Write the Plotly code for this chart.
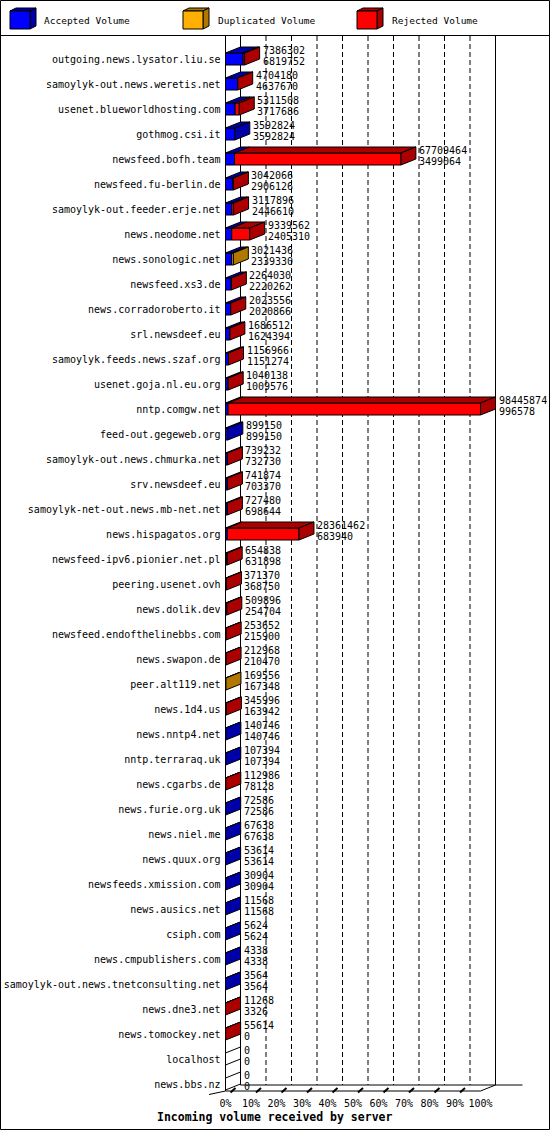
import plotly.graph_objects as go

# ---------------- data ----------------
hosts = [
    "outgoing.news.lysator.liu.se", "samoylyk-out.news.weretis.net", "usenet.blueworldhosting.com",
    "gothmog.csi.it", "newsfeed.bofh.team", "newsfeed.fu-berlin.de", "samoylyk-out.feeder.erje.net",
    "news.neodome.net", "news.sonologic.net", "newsfeed.xs3.de", "news.corradoroberto.it",
    "srl.newsdeef.eu", "samoylyk.feeds.news.szaf.org", "usenet.goja.nl.eu.org", "nntp.comgw.net",
    "feed-out.gegeweb.org", "samoylyk-out.news.chmurka.net", "srv.newsdeef.eu",
    "samoylyk-net-out.news.mb-net.net", "news.hispagatos.org", "newsfeed-ipv6.pionier.net.pl",
    "peering.usenet.ovh", "news.dolik.dev", "newsfeed.endofthelinebbs.com", "news.swapon.de",
    "peer.alt119.net", "news.1d4.us", "news.nntp4.net", "nntp.terraraq.uk", "news.cgarbs.de",
    "news.furie.org.uk", "news.niel.me", "news.quux.org", "newsfeeds.xmission.com", "news.ausics.net",
    "csiph.com", "news.cmpublishers.com", "samoylyk-out.news.tnetconsulting.net", "news.dne3.net",
    "news.tomockey.net", "localhost", "news.bbs.nz",
]
total_volume = [
    7386302, 4704180, 5311508, 3592824, 67709464, 3042066, 3117896, 9339562, 3021436, 2264030,
    2023556, 1686512, 1156966, 1040138, 98445874, 899150, 739232, 741874, 727480, 28361462,
    654838, 371370, 509896, 253652, 212968, 169556, 345996, 140746, 107394, 112986,
    72586, 67638, 53614, 30904, 11568, 5624, 4338, 3564, 11268, 55614, 0, 0,
]
accepted_volume = [
    6819752, 4637670, 3717686, 3592824, 3499064, 2906126, 2446610, 2405310, 2339330, 2220262,
    2020866, 1624394, 1151274, 1009576, 996578, 899150, 732730, 703370, 698644, 683940,
    631898, 368750, 254704, 215900, 210470, 167348, 163942, 140746, 107394, 78128,
    72586, 67638, 53614, 30904, 11568, 5624, 4338, 3564, 3326, 0, 0, 0,
]
duplicated_volume = [
    0, 0, 0, 0, 0, 0, 0, 0, 682106, 0,
    0, 0, 0, 0, 0, 0, 0, 0, 0, 0,
    0, 0, 0, 0, 0, 2208, 0, 0, 0, 0,
    0, 0, 0, 0, 0, 0, 0, 0, 0, 0, 0, 0,
]
rejected_volume = [t - a - d for t, a, d in zip(total_volume, accepted_volume, duplicated_volume)]

series_names = ["Accepted Volume", "Duplicated Volume", "Rejected Volume"]
front_colors = ["#0000FF", "#FFB000", "#FF0000"]
dark_colors = ["#0000A8", "#B07800", "#AC0000"]
tick_pcts = [0, 10, 20, 30, 40, 50, 60, 70, 80, 90, 100]
tick_texts = ["0%", "10%", "20%", "30%", "40%", "50%", "60%", "70%", "80%", "90%", "100%"]
x_title = "Incoming volume received by server"

# ---------------- geometry ----------------
FIG_W, FIG_H = 550, 1130
L, R, T, B = 200, 20, 36, 34
PW = FIG_W - L - R
PH = FIG_H - T - B
X0_PX = 225.5
PX_PER_PCT = 2.55
ROW0_PX = 59.0
ROW_PX = 25.0


def pct_of_px(px):
    return (px - X0_PX) / PX_PER_PCT


def row_of_py(py):
    return (py - ROW0_PX) / ROW_PX


def paper_x(px):
    return (px - L) / PW


def paper_y(py):
    return (FIG_H - B - py) / PH


XR = [pct_of_px(L), pct_of_px(FIG_W - R)]
YR = [row_of_py(FIG_H - B), row_of_py(T)]
DX = 15 / PX_PER_PCT
DY = 6 / ROW_PX
HALF = 6 / ROW_PX
MONO = "DejaVu Sans Mono"

vmax = max(total_volume)
rows = list(range(len(hosts)))
series = [accepted_volume, duplicated_volume, rejected_volume]


def pct(v):
    return v / vmax * 100.0


fig = go.Figure()

# front faces (bars)
cum = [0.0] * len(hosts)
segs = []
for s, vals in enumerate(series):
    xs, bases, seg = [], [], []
    for i, v in enumerate(vals):
        p = pct(v)
        xs.append(p if v > 0 else None)
        bases.append(cum[i])
        if v > 0:
            seg.append((i, cum[i], cum[i] + p))
        cum[i] += p
    segs.append(seg)
    fig.add_trace(go.Bar(
        y=rows, x=xs, base=bases, orientation="h", width=2 * HALF,
        marker=dict(color=front_colors[s], line=dict(color="black", width=1)),
        name=series_names[s], showlegend=False, hoverinfo="skip",
    ))

# top faces
for s in range(3):
    px_, py_ = [], []
    for (i, x0, x1) in segs[s]:
        rt = i - HALF
        px_ += [x0, x1, x1 + DX, x0 + DX, x0, None]
        py_ += [rt, rt, rt - DY, rt - DY, rt, None]
    if px_:
        fig.add_trace(go.Scatter(
            x=px_, y=py_, mode="lines", fill="toself", fillcolor=dark_colors[s],
            line=dict(color="black", width=1), showlegend=False, hoverinfo="skip",
        ))

# side faces (colour of last non-empty segment)
side_groups = {c: ([], []) for c in dark_colors + ["#FFFFFF"]}
for i in rows:
    col = "#FFFFFF"
    for s in range(3):
        if series[s][i] > 0:
            col = dark_colors[s]
    x1 = pct(total_volume[i])
    rt, rb = i - HALF, i + HALF
    gx, gy = side_groups[col]
    gx += [x1, x1, x1 + DX, x1 + DX, x1, None]
    gy += [rt, rb, rb - DY, rt - DY, rt, None]
for col, (gx, gy) in side_groups.items():
    if gx:
        fig.add_trace(go.Scatter(
            x=gx, y=gy, mode="lines", fill="toself", fillcolor=col,
            line=dict(color="black", width=1), showlegend=False, hoverinfo="skip",
        ))

# value labels
ann = []
for i in rows:
    xp = pct(total_volume[i])
    for txt, ysh in ((str(total_volume[i]), 8.5), (str(accepted_volume[i]), -2.5)):
        ann.append(dict(x=xp, y=i, xref="x", yref="y", text=txt, showarrow=False,
                        xanchor="left", yanchor="middle", xshift=16, yshift=ysh,
                        font=dict(family=MONO, size=10, color="black")))

# walls, floor, grid
shapes = []
top_row = YR[1]
floor_front = row_of_py(1091)
floor_back = row_of_py(1085)
line = dict(color="black", width=1)
shapes.append(dict(type="line", xref="x", yref="y", x0=0, x1=0, y0=top_row, y1=floor_front, line=line, layer="below"))
shapes.append(dict(type="line", xref="x", yref="y", x0=DX, x1=DX, y0=top_row, y1=floor_back, line=line, layer="below"))
shapes.append(dict(type="line", xref="x", yref="y", x0=100 + DX, x1=100 + DX, y0=top_row, y1=floor_back, line=line, layer="below"))
for k in tick_pcts[1:-1]:
    shapes.append(dict(type="line", xref="x", yref="y", x0=k + DX, x1=k + DX, y0=top_row, y1=floor_back,
                       line=dict(color="black", width=1, dash="5px,3px"), layer="below"))
shapes.append(dict(type="line", xref="x", yref="y", x0=0, x1=100, y0=floor_front, y1=floor_front, line=line))
shapes.append(dict(type="line", xref="x", yref="y", x0=100, x1=100 + DX, y0=floor_front, y1=floor_back, line=line))
shapes.append(dict(type="line", xref="x", yref="y", x0=DX, x1=pct_of_px(522.5), y0=floor_back, y1=floor_back, line=line))
shapes.append(dict(type="line", xref="x", yref="y", x0=0, x1=pct_of_px(209), y0=floor_front, y1=row_of_py(1094.5), line=line))
for k in tick_pcts[:-1]:
    xa = k + 5 / PX_PER_PCT
    shapes.append(dict(type="line", xref="x", yref="y", x0=xa, x1=xa + 5 / PX_PER_PCT,
                       y0=row_of_py(1092.5), y1=row_of_py(1088), line=dict(color="black", width=2)))

# outer border and legend separator
shapes.append(dict(type="rect", xref="paper", yref="paper", x0=paper_x(0.5), x1=paper_x(549.5),
                   y0=paper_y(1129.5), y1=paper_y(0.5), line=line, layer="above"))
shapes.append(dict(type="line", xref="paper", yref="paper", x0=paper_x(0), x1=paper_x(550),
                   y0=paper_y(35.5), y1=paper_y(35.5), line=line))

# legend (3D cubes + text)
leg_x = [10, 183, 357]
leg_tx = [42, 216, 390]
for s in range(3):
    x0, x1 = leg_x[s], leg_x[s] + 20
    y0, y1 = 11, 29
    ddx, ddy = 6, 3
    shapes.append(dict(type="path", xref="paper", yref="paper",
                       path="M {a},{b} L {c},{b} L {d},{e} L {f},{e} Z".format(
                           a=paper_x(x0), b=paper_y(y0), c=paper_x(x1), d=paper_x(x1 + ddx),
                           e=paper_y(y0 - ddy), f=paper_x(x0 + ddx)),
                       fillcolor=dark_colors[s], line=line))
    shapes.append(dict(type="path", xref="paper", yref="paper",
                       path="M {a},{b} L {a},{c} L {d},{e} L {d},{f} Z".format(
                           a=paper_x(x1), b=paper_y(y0), c=paper_y(y1), d=paper_x(x1 + ddx),
                           e=paper_y(y1 - ddy), f=paper_y(y0 - ddy)),
                       fillcolor=dark_colors[s], line=line))
    shapes.append(dict(type="rect", xref="paper", yref="paper", x0=paper_x(x0), x1=paper_x(x1),
                       y0=paper_y(y1), y1=paper_y(y0), fillcolor=front_colors[s], line=line))
    ann.append(dict(x=paper_x(leg_tx[s]), y=paper_y(20), xref="paper", yref="paper",
                    text=series_names[s], showarrow=False, xanchor="left", yanchor="middle",
                    font=dict(family=MONO, size=9.5, color="black")))

ann.append(dict(x=paper_x(155), y=paper_y(1117), xref="paper", yref="paper",
                text="<b>" + x_title + "</b>", showarrow=False, xanchor="left", yanchor="middle",
                font=dict(family=MONO, size=11.5, color="black")))

fig.update_layout(
    width=FIG_W, height=FIG_H, autosize=False,
    margin=dict(l=L, r=R, t=T, b=B, pad=0, autoexpand=False),
    paper_bgcolor="white", plot_bgcolor="white",
    barmode="overlay", showlegend=False,
    shapes=shapes, annotations=ann,
    xaxis=dict(range=XR, tickvals=tick_pcts, ticktext=tick_texts, showgrid=False, zeroline=False,
               showline=False, ticks="", fixedrange=True, automargin=False,
               tickfont=dict(family=MONO, size=10, color="black")),
    yaxis=dict(range=YR, tickvals=rows, ticktext=hosts, anchor="free", position=paper_x(X0_PX),
               showgrid=False, zeroline=False, showline=False, ticks="", fixedrange=True,
               automargin=False, autoshift=False, ticklabelstandoff=5,
               tickfont=dict(family=MONO, size=10, color="black")),
)

fig.write_html(
    "out.html",
    config={"displayModeBar": False},
    post_script="document.body.style.margin='0';document.body.style.padding='0';"
                "document.documentElement.style.overflow='hidden';",
)
